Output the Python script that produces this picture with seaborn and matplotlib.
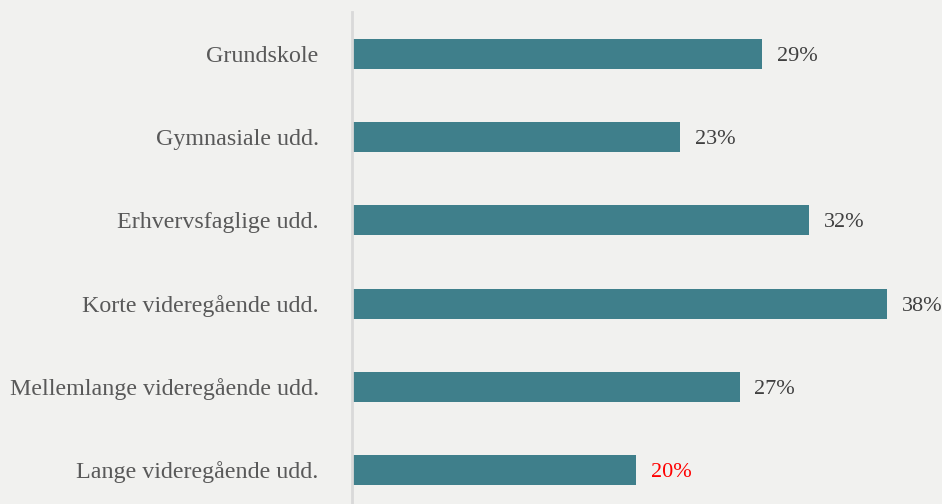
import matplotlib
matplotlib.use("Agg")
import matplotlib.pyplot as plt
import seaborn as sns
import pandas as pd

# data
categories = [
    "Grundskole",
    "Gymnasiale udd.",
    "Erhvervsfaglige udd.",
    "Korte videregående udd.",
    "Mellemlange videregående udd.",
    "Lange videregående udd.",
]
shares = [28.9, 23.1, 32.2, 37.7, 27.3, 20.0]
labels = ["29%", "23%", "32%", "38%", "27%", "20%"]
label_colors = ["#404040"] * 5 + ["#ff0000"]

df = pd.DataFrame({"category": categories, "share": shares})

BG = "#f1f1ef"
BAR = "#3f7f8b"

sns.set_theme(style="white")
plt.rcParams["font.family"] = ["Liberation Serif", "DejaVu Serif"]

fig = plt.figure(figsize=(9.42, 5.04), dpi=100, facecolor=BG)
ax = fig.add_axes([352 / 942, -7.6 / 504, 590 / 942, 499.2 / 504])
ax.set_facecolor(BG)

sns.barplot(data=df, x="share", y="category", color=BAR, width=0.36,
            saturation=1, linewidth=0, ax=ax, orient="h")

ax.set_xlim(0, 41.55)
ax.set_ylim(5.5, -0.5)
ax.set_xlabel("")
ax.set_ylabel("")
ax.set_xticks([])

for s in ["top", "right", "bottom"]:
    ax.spines[s].set_visible(False)
ax.spines["left"].set_color("#d9d9d9")
ax.spines["left"].set_linewidth(2)

ax.tick_params(axis="y", length=0, pad=24, labelsize=17.3, labelcolor="#595959")

for i, (v, t, c) in enumerate(zip(shares, labels, label_colors)):
    ax.annotate(t, xy=(v, i), xytext=(10.5, 0), textcoords="offset points",
                va="center_baseline", ha="left", fontsize=16, color=c)

fig.savefig("out.png", dpi=100, facecolor=BG)
